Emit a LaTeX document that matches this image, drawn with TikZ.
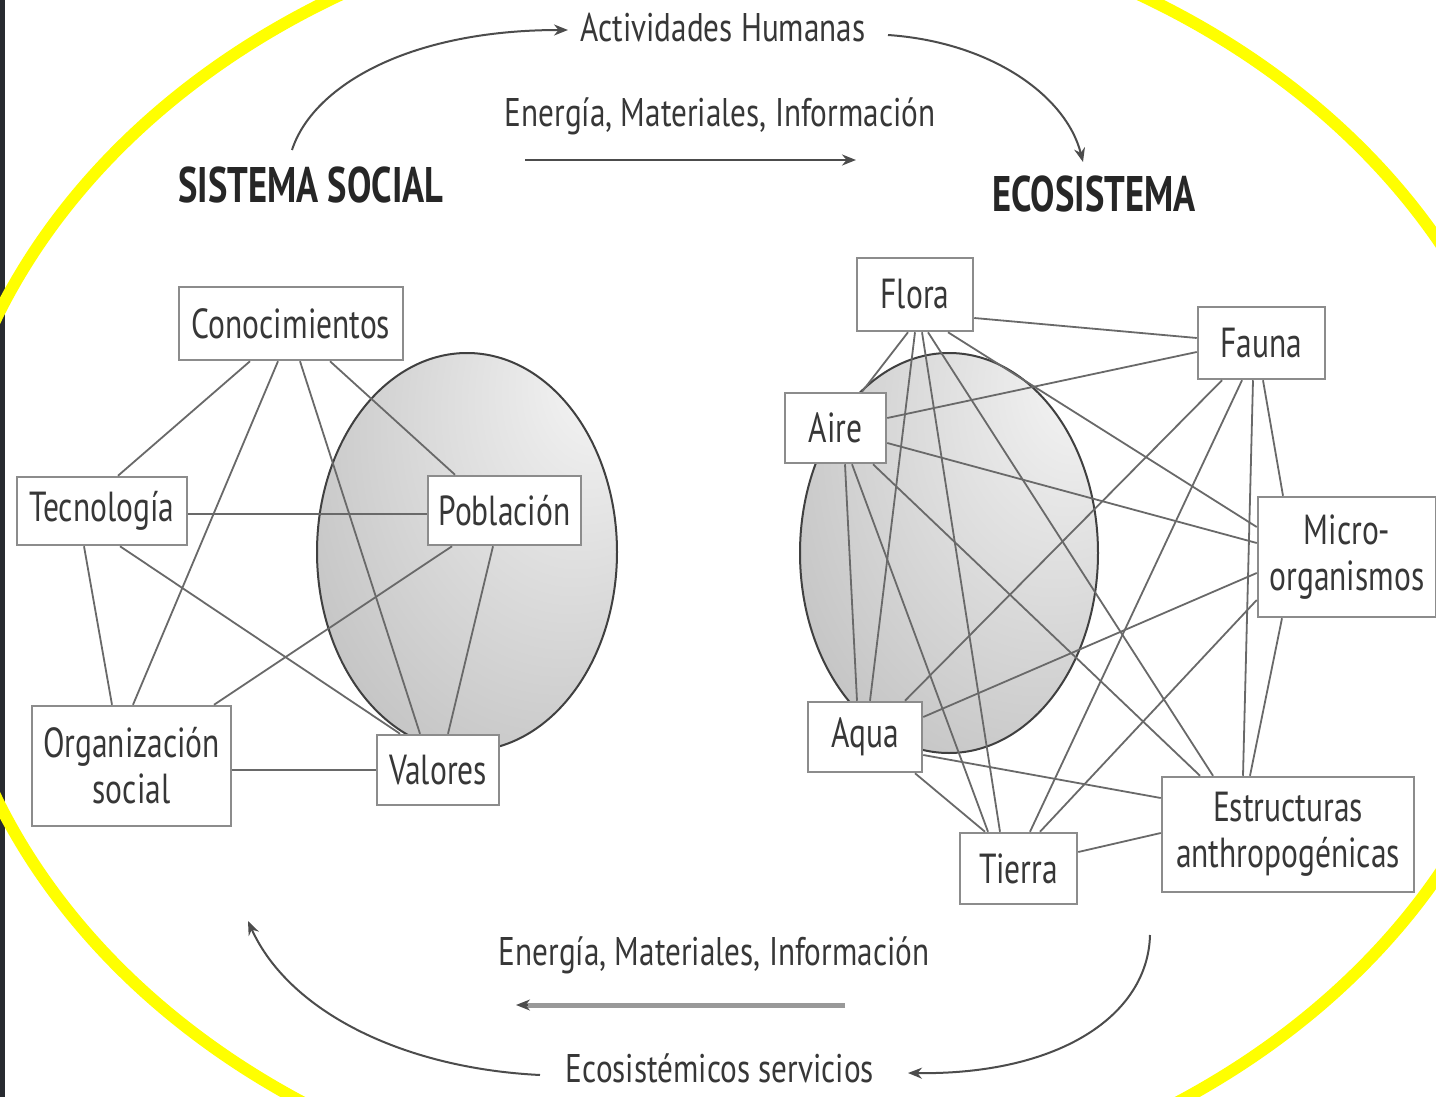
\documentclass[tikz,border=0pt]{standalone}
\usepackage{fontspec}
\setmainfont[FakeStretch=0.75]{PT Sans}
\newfontfamily\lblfont[FakeStretch=0.78]{PT Sans}
\newfontfamily\ttlfont[FakeStretch=0.73]{PT Sans}
\usetikzlibrary{arrows.meta,calc}
\definecolor{ylw}{RGB}{255,255,0}
\definecolor{edgec}{RGB}{105,105,105}
\definecolor{boxc}{RGB}{140,140,140}
\definecolor{txt}{RGB}{55,55,55}
\definecolor{stripc}{RGB}{40,43,48}
\pgfdeclareradialshading{sphereshade}{\pgfpoint{24bp}{24bp}}{color(0bp)=(white!97!black); color(12bp)=(white!91!black); color(50bp)=(white!74!black); color(85bp)=(white!56!black)}
\begin{document}
\begin{tikzpicture}[x=1pt,y=-1pt,
  box/.style={draw=boxc, line width=2.5pt, fill=white, inner sep=0pt, font=\fontsize{42}{46}\selectfont, text=txt, align=center},
  link/.style={draw=edgec, line width=1.8pt},
  flow/.style={draw=black!70, line width=2pt, -{Stealth[length=14pt,width=11pt]}},
  lbl/.style={font=\fontsize{40}{44}\lblfont, text=txt, inner sep=0pt},
  ttl/.style={font=\fontsize{50}{54}\ttlfont\bfseries, text=black!85, inner sep=0pt},
  sphere/.style={shade, shading=sphereshade, draw=black!75, line width=2pt}]
\useasboundingbox (0,0) rectangle (1436,1097);
\clip (0,0) rectangle (1436,1097);
\fill[white] (0,0) rectangle (1436,1097);
\fill[stripc] (0,0) rectangle (5,1097);
\draw[ylw, line width=12pt] (740,558) ellipse [x radius=800, y radius=650];

% spheres
\path[sphere] (467,552) ellipse [x radius=150, y radius=199];
\path[sphere] (949,553) ellipse [x radius=149, y radius=200];

% titles and labels
\node[lbl] (act) at (723,28) {Actividades Humanas};
\node[lbl] (emia) at (720,116) {Energía, Materiales, Información};
\node[ttl] (ss) at (311,185) {SISTEMA SOCIAL};
\node[ttl] (eco) at (1094,194) {ECOSISTEMA};
\node[lbl] (emib) at (714,955) {Energía, Materiales, Información};
\node[lbl] (ess) at (720,1068) {Ecosistémicos servicios};

\coordinate (a1s) at (292,150);
\coordinate (a1e) at (568,30);
\coordinate (a2s) at (888,35);
\coordinate (a2e) at (1083,162);
\coordinate (a3s) at (525,160);
\coordinate (a3e) at (856,160);
\coordinate (a4s) at (845,1005);
\coordinate (a4e) at (516,1005);
\coordinate (a5s) at (1150,935);
\coordinate (a5e) at (908,1073);
\coordinate (a6s) at (540,1075);
\coordinate (a6e) at (248,921);

\draw[flow] (a1s) .. controls (312,88) and (405,30) .. (a1e);
\draw[flow] (a2s) .. controls (990,42) and (1066,95) .. (a2e);
\draw[flow] (a3s) -- (a3e);
\draw[draw=black!40, line width=5pt] (a4s) -- ([xshift=10pt]a4e);
\draw[flow] ([xshift=12pt]a4e) -- (a4e);
\draw[flow] (a5s) .. controls (1148,1015) and (1060,1075) .. (a5e);
\draw[flow] (a6s) .. controls (400,1068) and (288,1010) .. (a6e);

% left network
\node[box, minimum width=224pt, minimum height=73pt] (con) at (291,323.5) {Conocimientos};
\node[box, minimum width=170pt, minimum height=68pt] (tec) at (102,511) {Tecnología};
\node[box, minimum width=153pt, minimum height=69pt] (pob) at (504.5,510.5) {Población};
\node[box, minimum width=199pt, minimum height=120pt] (org) at (131.5,766) {Organización\\social};
\node[box, minimum width=122pt, minimum height=70pt] (val) at (438,770) {Valores};

\draw[link] ([xshift=-41pt]con.south) -- ([xshift=16pt]tec.north);
\draw[link] ([xshift=-13pt]con.south) -- ([xshift=1.5pt]org.north);
\draw[link] ([xshift=9pt]con.south) -- ([xshift=-18pt]val.north);
\draw[link] ([xshift=39pt]con.south) -- ([xshift=-49.5pt]pob.north);
\draw[link] ([yshift=-3pt]tec.east) -- ([yshift=-3.5pt]pob.west);
\draw[link] ([xshift=-18pt]tec.south) -- ([xshift=-19.5pt]org.north);
\draw[link] ([xshift=18pt]tec.south) -- ([xshift=-38pt]val.north);
\draw[link] ([xshift=-52.5pt]pob.south) -- ([xshift=82.5pt]org.north);
\draw[link] ([xshift=-11.5pt]pob.south) -- ([xshift=10pt]val.north);
\draw[link] ([yshift=-4pt]org.east) -- (val.west);

% right network
\node[box, minimum width=116pt, minimum height=73pt] (flora) at (915,294.5) {Flora};
\node[box, minimum width=127pt, minimum height=72pt] (fauna) at (1261.5,343) {Fauna};
\node[box, minimum width=101pt, minimum height=70pt] (aire) at (835.5,428) {Aire};
\node[box, minimum width=178pt, minimum height=120pt] (micro) at (1347,557) {Micro-\\organismos};
\node[box, minimum width=114pt, minimum height=70pt] (aqua) at (865,737) {Aqua};
\node[box, minimum width=117pt, minimum height=71pt] (tierra) at (1018.5,868.5) {Tierra};
\node[box, minimum width=252pt, minimum height=115pt] (estr) at (1288,834.5) {Estructuras\\anthropogénicas};

\draw[link] ([yshift=-23.5pt]flora.east) -- ([yshift=5pt]fauna.west);
\draw[link] ([xshift=-7pt]flora.south) -- ([xshift=26.5pt]aire.north);
\draw[link] (flora.south) -- ([xshift=5pt]aqua.north);
\draw[link] ([xshift=7pt]flora.south) -- ([xshift=-18.5pt]tierra.north);
\draw[link] ([xshift=13pt]flora.south) -- ([xshift=-75pt]estr.north);
\draw[link] ([xshift=33pt]flora.south) -- ([yshift=30pt]micro.west);
\draw[link] ([yshift=-9pt]fauna.west) -- ([yshift=10pt]aire.east);
\draw[link] ([xshift=-39.5pt]fauna.south) -- ([xshift=40pt]aqua.north);
\draw[link] ([xshift=-19.5pt]fauna.south) -- ([xshift=11.5pt]tierra.north);
\draw[link] ([xshift=-8.5pt]fauna.south) -- ([xshift=-45pt]estr.north);
\draw[link] ([xshift=1.5pt]fauna.south) -- ([xshift=-64pt]micro.north);
\draw[link] ([yshift=-15pt]aire.east) -- ([yshift=14pt]micro.west);
\draw[link] ([xshift=9.5pt]aire.south) -- ([xshift=-8pt]aqua.north);
\draw[link] ([xshift=16.5pt]aire.south) -- ([xshift=-30.5pt]tierra.north);
\draw[link] ([xshift=37.5pt]aire.south) -- ([xshift=-88pt]estr.north);
\draw[link] ([yshift=-16pt]micro.west) -- ([yshift=20pt]aqua.east);
\draw[link] ([yshift=-43pt]micro.west) -- ([xshift=21.5pt]tierra.north);
\draw[link] ([xshift=-65pt]micro.south) -- ([xshift=-38pt]estr.north);
\draw[link] ([xshift=50pt]aqua.south) -- ([xshift=-33.5pt]tierra.north);
\draw[link] ([yshift=-18pt]aqua.east) -- ([yshift=36.5pt]estr.west);
\draw[link] ([yshift=16.5pt]tierra.east) -- ([yshift=1.5pt]estr.west);
\end{tikzpicture}
\end{document}
